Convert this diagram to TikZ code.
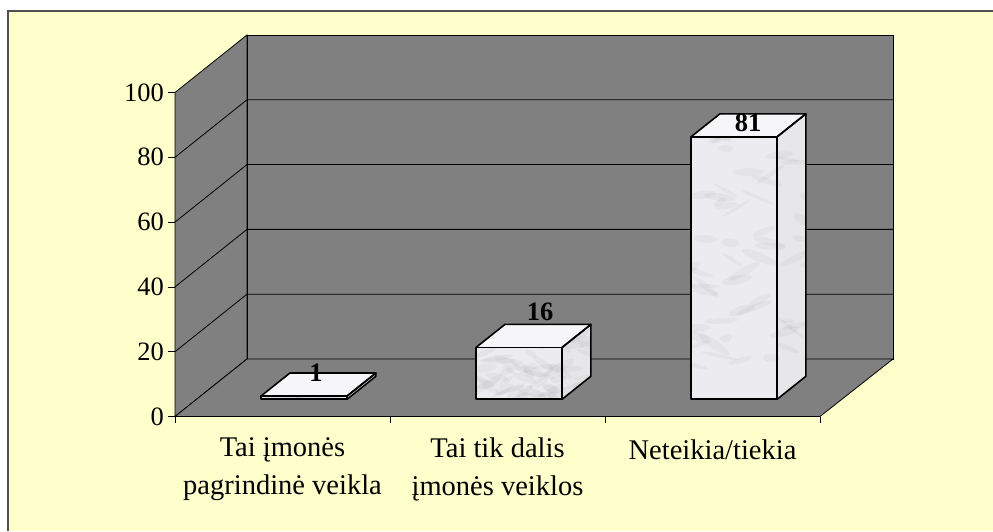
\documentclass[tikz,border=0pt]{standalone}
\usepackage{fontspec}
\setmainfont{Liberation Serif}
\usepackage{tikz}
\usetikzlibrary{calc}
\definecolor{chartbg}{HTML}{FFFFCC}
\definecolor{wallgray}{HTML}{808080}
\definecolor{marble}{HTML}{ECECF0}
\definecolor{framegray}{HTML}{505050}
\tikzset{
    wall/.style={fill=wallgray,draw=black,line width=0.8pt},
    gridline/.style={draw=black,line width=0.8pt},
    baredge/.style={draw=black,line width=1.6pt,line join=round},
    ticklab/.style={anchor=east,inner sep=0pt,font=\fontsize{26.5}{30}\selectfont},
    catlab/.style={align=center,inner sep=0pt,font=\fontsize{28.5}{38}\selectfont},
    vallab/.style={inner sep=0pt,font=\fontsize{26.5}{30}\selectfont\bfseries}
}

\begin{document}
\begin{tikzpicture}[x=1pt,y=1pt]
\useasboundingbox (0,0) rectangle (993,531);
\fill[white] (0,0) rectangle (993,531);
\fill[chartbg] (8,0) rectangle (993,520);
\draw[framegray,line width=1.5pt] (8,0) -- (8,520) -- (993,520);
% walls and floor
\path[wall] (175,114.5) -- (175,438.5) -- (247,496) -- (247,172) -- cycle;
\path[wall] (247,172) rectangle (893,496);
\path[wall] (175,114.5) -- (820,114.5) -- (893,172) -- (247,172) -- cycle;
\foreach \v in {20,40,...,80}{
\draw[gridline] (175,{114.5+3.24*\v}) -- (247,{172+3.24*\v}) -- (893,{172+3.24*\v});}
% value axis
\foreach \v in {0,20,...,100}{
\draw[gridline] (168,{114.5+3.24*\v}) -- (175,{114.5+3.24*\v});
\node[ticklab] (y\v) at (164,{114.5+3.24*\v}) {\v};}
\foreach \x in {175,390,605,820}{
\draw[gridline] (\x,114.5) -- (\x,108);}
% bars
\pgfmathsetseed{7}
\foreach \cx/\v/\lx/\ly in {282.5/1/316/158,497.5/16/540/219,712.5/81/748/408}{
\pgfmathsetmacro\xl{\cx+21.6-43}
\pgfmathsetmacro\xr{\cx+21.6+43}
\pgfmathsetmacro\yt{131.75+3.24*\v}
\fill[marble] (\xl,131.75) rectangle (\xr,\yt);
\fill[marble!95!gray] (\xr,131.75) -- ++(28.8,23) -- ++(0,{3.24*\v}) -- (\xr,\yt) -- cycle;
\fill[marble!50!white] (\xl,\yt) -- ++(28.8,23) -- ++(86,0) -- (\xr,\yt) -- cycle;
\begin{scope}
\clip (\xl,131.75) rectangle (\xr,\yt) -- (\xr,131.75) -- ++(28.8,23) -- ++(0,{3.24*\v}) -- (\xr,\yt);
\foreach \k in {1,...,70}{
\fill[gray,opacity=0.07,rotate around={{-40+80*rnd}:({\xl+115*rnd},{131.75+(3.24*\v+23)*rnd})}]
  ({\xl+115*rnd},{131.75+(3.24*\v+23)*rnd}) ellipse ({6+14*rnd} and {1.5+3*rnd});}
\end{scope}
\draw[baredge] (\xl,131.75) rectangle (\xr,\yt);
\draw[baredge] (\xr,131.75) -- ++(28.8,23) -- ++(0,{3.24*\v}) -- (\xr,\yt);
\draw[baredge] (\xl,\yt) -- ++(28.8,23) -- ++(86,0) -- (\xr,\yt);
\node[vallab] (val\v) at (\lx,\ly) {\v};}
% category labels
\node[catlab] (cat1) at (282.5,62) {Tai įmonės\\pagrindinė veikla};
\node[catlab] (cat2) at (497.5,62) {Tai tik dalis\\įmonės veiklos};
\node[catlab] (cat3) at (712.5,81) {Neteikia/tiekia};
\end{tikzpicture}
\end{document}
